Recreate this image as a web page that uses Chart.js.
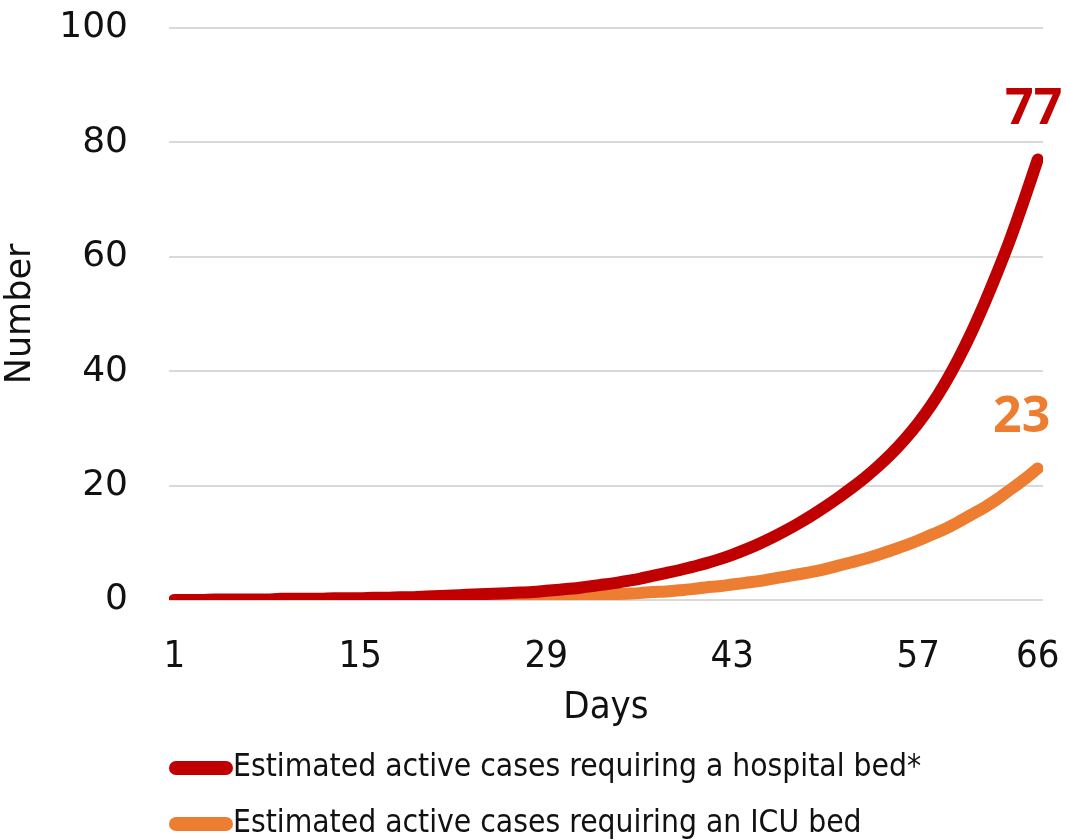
<!DOCTYPE html>
<html>
<head>
<meta charset="utf-8">
<title>Estimated active cases requiring beds</title>
<script src="https://cdn.jsdelivr.net/npm/chart.js@4/dist/chart.umd.min.js"></script>
<style>
  html, body { margin: 0; padding: 0; background: #ffffff; }
  #wrap { width: 1066px; height: 840px; position: relative; }
</style>
</head>
<body>
<div id="wrap"><canvas id="chart"></canvas></div>
<script>
// Days of the projection
const days = Array.from({ length: 66 }, (_, i) => i + 1);

// Estimated active cases requiring a hospital bed (by day)
const hospitalBeds = [
  0.0, 0.0, 0.0, 0.1, 0.1, 0.1, 0.1, 0.1, 0.2, 0.2,
  0.2, 0.2, 0.3, 0.3, 0.3, 0.4, 0.4, 0.5, 0.5, 0.6,
  0.7, 0.8, 0.9, 1.0, 1.1, 1.2, 1.3, 1.4, 1.6, 1.8,
  2.0, 2.3, 2.6, 2.9, 3.3, 3.7, 4.2, 4.7, 5.2, 5.8,
  6.4, 7.1, 7.9, 8.8, 9.8, 10.9, 12.1, 13.4, 14.8, 16.3,
  17.9, 19.6, 21.4, 23.4, 25.6, 28.1, 30.9, 34.1, 37.8, 42.0,
  46.7, 51.9, 57.5, 63.5, 70.1, 77
];

// Estimated active cases requiring an ICU bed (by day)
const icuBeds = [
  0.0, 0.0, 0.0, 0.0, 0.0, 0.0, 0.0, 0.0, 0.1, 0.1,
  0.1, 0.1, 0.1, 0.1, 0.1, 0.1, 0.1, 0.1, 0.2, 0.2,
  0.2, 0.2, 0.3, 0.3, 0.3, 0.4, 0.4, 0.5, 0.5, 0.6,
  0.7, 0.8, 0.9, 1.0, 1.1, 1.2, 1.4, 1.5, 1.7, 1.9,
  2.2, 2.4, 2.7, 3.0, 3.3, 3.7, 4.1, 4.5, 4.9, 5.4,
  6.0, 6.6, 7.2, 7.9, 8.7, 9.5, 10.4, 11.4, 12.4, 13.6,
  14.9, 16.2, 17.7, 19.4, 21.1, 23
];

// Labelled days on the horizontal axis
const dayTicks = [1, 15, 29, 43, 57, 66];

// Vertical axis ticks
const numberTicks = [0, 20, 40, 60, 80, 100];

const seriesNames = [
  'Estimated active cases requiring a hospital bed*',
  'Estimated active cases requiring an ICU bed'
];

const RED = '#C00000';
const ORANGE = '#ED7D31';
const TEXT = '#111111';

const toPoints = (vals) => vals.map((v, i) => ({ x: days[i], y: v }));

// Writes the final value above the end of each line
const endValueLabels = {
  id: 'endValueLabels',
  afterDatasetsDraw(chart) {
    const ctx = chart.ctx;
    chart.data.datasets.forEach((ds, i) => {
      const meta = chart.getDatasetMeta(i);
      const last = meta.data[meta.data.length - 1];
      const value = ds.data[ds.data.length - 1].y;
      ctx.save();
      ctx.fillStyle = ds.borderColor;
      ctx.font = '700 50px "Open Sans", "DejaVu Sans", sans-serif';
      ctx.textAlign = 'center';
      ctx.textBaseline = 'alphabetic';
      ctx.fillText(String(Math.round(value)), last.x + ds.endLabelShiftX, last.y - 36);
      ctx.restore();
    });
  }
};

// Stacked legend below the axis, one row per series
const stackedLegend = {
  id: 'stackedLegend',
  afterDraw(chart) {
    const ctx = chart.ctx;
    const xScale = chart.scales.x;
    const left = chart.chartArea.left + 7;
    const rowY = [xScale.bottom + 37, xScale.bottom + 93];
    chart.data.datasets.forEach((ds, i) => {
      const y = rowY[i];
      ctx.save();
      ctx.strokeStyle = ds.borderColor;
      ctx.lineWidth = 14;
      ctx.lineCap = 'round';
      ctx.beginPath();
      ctx.moveTo(left, y);
      ctx.lineTo(left + 50, y);
      ctx.stroke();
      ctx.fillStyle = TEXT;
      ctx.font = '31.5px "DejaVu Sans Condensed", "DejaVu Sans", sans-serif';
      ctx.textAlign = 'left';
      ctx.textBaseline = 'middle';
      ctx.fillText(ds.label, left + 57, y);
      ctx.restore();
    });
  }
};

new Chart(document.getElementById('chart'), {
  type: 'line',
  data: {
    datasets: [
      {
        label: seriesNames[0],
        data: toPoints(hospitalBeds),
        borderColor: RED,
        backgroundColor: RED,
        borderWidth: 12,
        borderCapStyle: 'round',
        borderJoinStyle: 'round',
        pointRadius: 0,
        cubicInterpolationMode: 'monotone',
        endLabelShiftX: -4
      },
      {
        label: seriesNames[1],
        data: toPoints(icuBeds),
        borderColor: ORANGE,
        backgroundColor: ORANGE,
        borderWidth: 12,
        borderCapStyle: 'round',
        borderJoinStyle: 'round',
        pointRadius: 0,
        cubicInterpolationMode: 'monotone',
        endLabelShiftX: -16
      }
    ]
  },
  options: {
    responsive: true,
    maintainAspectRatio: false,
    animation: false,
    layout: { padding: { top: 28, right: 23, bottom: 109, left: 0 } },
    plugins: {
      legend: { display: false },
      tooltip: { enabled: false }
    },
    scales: {
      x: {
        type: 'linear',
        min: 0.6,
        max: 66.4,
        afterBuildTicks(scale) {
          scale.ticks = dayTicks.map(v => ({ value: v }));
        },
        afterFit(scale) { scale.height = 131; },
        grid: { display: false, drawTicks: true, tickLength: 30, tickColor: 'rgba(0,0,0,0)' },
        border: { display: false },
        ticks: {
          padding: 4,
          maxRotation: 0,
          autoSkip: false,
          color: TEXT,
          font: { family: '"DejaVu Sans Condensed", "DejaVu Sans", sans-serif', size: 38 },
          callback: (v) => String(v)
        },
        title: {
          display: true,
          text: 'Days',
          color: TEXT,
          padding: { top: 6, bottom: 0 },
          font: { family: '"DejaVu Sans Condensed", "DejaVu Sans", sans-serif', size: 38 }
        }
      },
      y: {
        min: 0,
        max: 100,
        afterBuildTicks(scale) {
          scale.ticks = numberTicks.map(v => ({ value: v }));
        },
        afterFit(scale) { scale.width = 169; },
        grid: { color: '#d9d9d9', lineWidth: 2, drawTicks: true, tickLength: 39, tickColor: 'rgba(0,0,0,0)' },
        border: { display: false },
        ticks: {
          padding: 2,
          color: TEXT,
          font: { family: '"DejaVu Sans", sans-serif', size: 36 }
        },
        title: {
          display: true,
          text: 'Number',
          color: TEXT,
          padding: { top: 0, bottom: 0 },
          font: { family: '"DejaVu Sans", sans-serif', size: 35 }
        }
      }
    }
  },
  plugins: [endValueLabels, stackedLegend]
});
</script>
</body>
</html>
